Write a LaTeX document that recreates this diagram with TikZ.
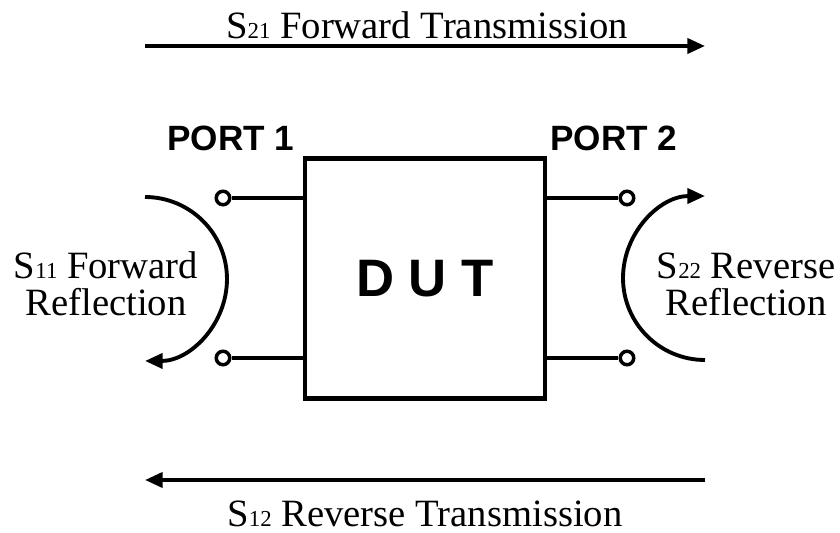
\documentclass[tikz,border=0pt]{standalone}
\usepackage{fontspec}
\setmainfont{Liberation Serif}
\setsansfont{Liberation Sans}
\usetikzlibrary{arrows.meta}
\tikzset{
  wire/.style={line width=2.2pt},
  arr/.style={wire,-{Triangle[length=10pt,width=8.5pt]}},
  term/.style={circle,draw,line width=2pt,inner sep=0pt,minimum size=0.27cm,fill=white},
  lbl/.style={font=\fontsize{22}{21}\selectfont,align=center},
  portlbl/.style={font=\sffamily\bfseries\fontsize{20}{20}\selectfont}
}
\newcommand{\sidx}[1]{{\fontsize{13}{13}\selectfont #1}}
\begin{document}
\begin{tikzpicture}[x=0.02cm,y=0.02cm]
      \useasboundingbox (0,0) rectangle (840,-533);
      % device under test
      \node [draw,line width=2.4pt,minimum size=4.8cm,
       font=\sffamily\bfseries\fontsize{30}{30}\selectfont] (dut) at (425,-278.5) {D U T};
      \node [term] (p1a) at (223,-198) {};
      \node [term] (p1b) at (223,-358) {};
      \node [term] (p2a) at (627,-198) {};
      \node [term] (p2b) at (627,-358) {};
      \draw [wire] (p1a) -- (dut.west |- p1a);
      \draw [wire] (p1b) -- (dut.west |- p1b);
      \draw [wire] (p2a) -- (dut.east |- p2a);
      \draw [wire] (p2b) -- (dut.east |- p2b);
      \node [portlbl] (port1) at (231,-138) {PORT 1};
      \node [portlbl] (port2) at (614,-138) {PORT 2};
      % transmission
      \coordinate (fwdA) at (145,-46);
      \coordinate (fwdB) at (705,-46);
      \draw [arr] (fwdA) -- (fwdB);
      \node [lbl,anchor=base] (s21) at (427,-39) {S\sidx{21} Forward Transmission};
      \coordinate (revA) at (705,-480);
      \coordinate (revB) at (145,-480);
      \draw [arr] (revA) -- (revB);
      \node [lbl,anchor=base] (s12) at (425,-527) {S\sidx{12} Reverse Transmission};
      % reflection
      \coordinate (refl1) at (145,-197);
      \draw [arr] (refl1) arc [start angle=90,end angle=-90,radius=1.64cm];
      \node [lbl] (s11) at (106,-284) {S\sidx{11} Forward\\Reflection};
      \coordinate (refl2) at (705,-360);
      \draw [arr] (refl2) arc [start angle=-90,end angle=-270,radius=1.64cm];
      \node [lbl] (s22) at (746,-284) {S\sidx{22} Reverse\\Reflection};
    \end{tikzpicture}
\end{document}
